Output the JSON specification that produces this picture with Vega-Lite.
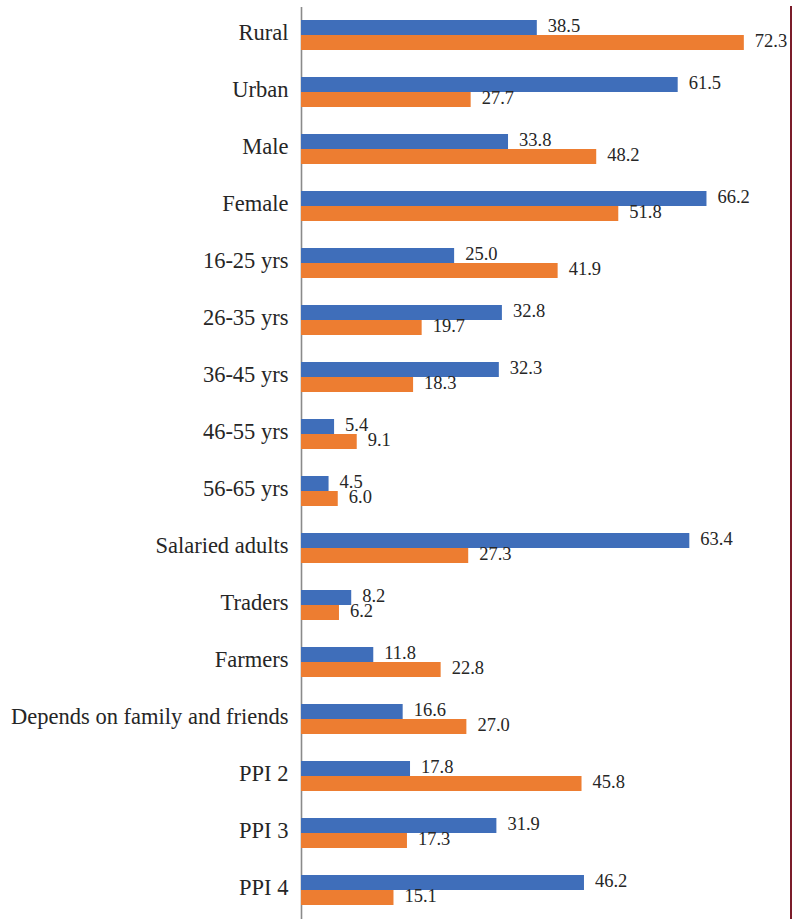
{
  "$schema": "https://vega.github.io/schema/vega-lite/v6.json",
  "autosize": "none",
  "width": 490,
  "height": 912,
  "padding": {"left": 301, "top": 6.5, "right": 2, "bottom": 3.5},
  "background": "white",
  "config": {
    "view": {"stroke": null},
    "font": "Liberation Serif"
  },
  "data": {
    "values": [
      {"group": "Rural", "series": "A", "value": 38.5},
      {"group": "Rural", "series": "B", "value": 72.3},
      {"group": "Urban", "series": "A", "value": 61.5},
      {"group": "Urban", "series": "B", "value": 27.7},
      {"group": "Male", "series": "A", "value": 33.8},
      {"group": "Male", "series": "B", "value": 48.2},
      {"group": "Female", "series": "A", "value": 66.2},
      {"group": "Female", "series": "B", "value": 51.8},
      {"group": "16-25 yrs", "series": "A", "value": 25.0},
      {"group": "16-25 yrs", "series": "B", "value": 41.9},
      {"group": "26-35 yrs", "series": "A", "value": 32.8},
      {"group": "26-35 yrs", "series": "B", "value": 19.7},
      {"group": "36-45 yrs", "series": "A", "value": 32.3},
      {"group": "36-45 yrs", "series": "B", "value": 18.3},
      {"group": "46-55 yrs", "series": "A", "value": 5.4},
      {"group": "46-55 yrs", "series": "B", "value": 9.1},
      {"group": "56-65 yrs", "series": "A", "value": 4.5},
      {"group": "56-65 yrs", "series": "B", "value": 6.0},
      {"group": "Salaried adults", "series": "A", "value": 63.4},
      {"group": "Salaried adults", "series": "B", "value": 27.3},
      {"group": "Traders", "series": "A", "value": 8.2},
      {"group": "Traders", "series": "B", "value": 6.2},
      {"group": "Farmers", "series": "A", "value": 11.8},
      {"group": "Farmers", "series": "B", "value": 22.8},
      {"group": "Depends on family and friends", "series": "A", "value": 16.6},
      {"group": "Depends on family and friends", "series": "B", "value": 27.0},
      {"group": "PPI 2", "series": "A", "value": 17.8},
      {"group": "PPI 2", "series": "B", "value": 45.8},
      {"group": "PPI 3", "series": "A", "value": 31.9},
      {"group": "PPI 3", "series": "B", "value": 17.3},
      {"group": "PPI 4", "series": "A", "value": 46.2},
      {"group": "PPI 4", "series": "B", "value": 15.1}
    ]
  },
  "encoding": {
    "y": {
      "field": "group",
      "type": "nominal",
      "sort": null,
      "scale": {"paddingInner": 0.474, "paddingOuter": 0.237},
      "axis": {
        "title": null,
        "ticks": false,
        "labelFont": "Liberation Serif",
        "labelFontSize": 22.5,
        "labelColor": "#262626",
        "labelPadding": 13,
        "labelOffset": -2,
        "labelLimit": 400,
        "domainColor": "#8a8a8a",
        "domainWidth": 1.6
      }
    },
    "yOffset": {"field": "series", "type": "nominal", "scale": {"paddingInner": 0, "paddingOuter": 0}},
    "x": {
      "field": "value",
      "type": "quantitative",
      "scale": {"domain": [0, 80], "nice": false},
      "axis": null
    }
  },
  "layer": [
    {
      "mark": {"type": "bar"},
      "encoding": {
        "color": {
          "field": "series",
          "type": "nominal",
          "scale": {"domain": ["A", "B"], "range": ["#3F6EBA", "#ED7D31"]},
          "legend": null
        }
      }
    },
    {
      "mark": {"type": "text", "align": "left", "baseline": "middle", "dx": 11, "dy": -1.5, "font": "Liberation Serif", "fontSize": 18.5, "color": "#262626"},
      "encoding": {
        "text": {"field": "value", "type": "quantitative", "format": ".1f"}
      }
    },
    {
      "mark": {"type": "rule", "color": "#7B1C2A", "strokeWidth": 2},
      "encoding": {
        "x": {"datum": 80},
        "y": null,
        "yOffset": null
      }
    }
  ]
}
